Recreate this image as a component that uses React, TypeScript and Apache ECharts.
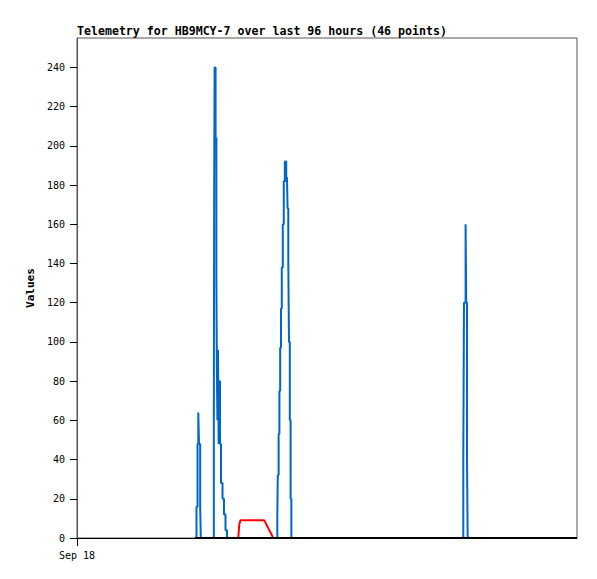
import React, { useEffect, useRef } from "react";
import * as echarts from "echarts";

// hours since Sep 18 00:00 (x) and values (y)
const blueHours = [
  22.94, 23.14, 23.29, 23.42, 23.65, 23.77, 23.87,
  26.27, 26.34, 26.42, 26.61, 26.76, 26.86, 26.96, 27.07, 27.19, 27.32, 27.46, 27.65, 27.94, 28.22, 28.51, 28.8, 28.99,
  38.46, 38.55, 38.71, 38.86, 39.01, 39.17, 39.32, 39.51, 39.7, 39.9, 40.17, 40.32, 40.43, 40.57, 40.7, 40.86, 41.01, 41.16, 41.32,
  74.17, 74.3, 74.61, 74.73, 74.88, 75.01, 75.07,
];
const blueValues = [
  0, 16, 48, 64, 48, 16, 0,
  0, 60, 180, 240, 204, 132, 84, 60, 96, 48, 80, 48, 28, 20, 12, 4, 0,
  0, 10, 32, 53, 75, 97, 117, 138, 160, 182, 192, 182, 184, 168, 140, 100, 60, 20, 0,
  0, 40, 120, 160, 120, 40, 0,
];
const redHours = [30.97, 31.07, 31.16, 31.39, 35.96, 37.69];
const redValues = [0, 4, 7, 9, 9, 0];
const blackHours = [22.66, 96];
const blackValues = [0, 0];

const yTicks = [0, 20, 40, 60, 80, 100, 120, 140, 160, 180, 200, 220, 240];
const xTickHours = [0];
const xTickLabels = ["Sep 18"];
const titleText = "Telemetry for HB9MCY-7 over last 96 hours (46 points)";
const yName = "Values";

const zip = (xs: number[], ys: number[]) => xs.map((x, i) => [x, ys[i]]);

export default function App() {
  const ref = useRef<HTMLDivElement>(null);
  useEffect(() => {
    if (!ref.current) return;
    const chart = echarts.init(ref.current, null, { renderer: "svg" });
    const mono = "DejaVu Sans Mono";
    chart.setOption({
      animation: false,
      backgroundColor: "#ffffff",
      title: {
        text: titleText,
        left: 77,
        top: 25,
        padding: 0,
        textStyle: { fontFamily: mono, fontSize: 11.6, fontWeight: "bold", color: "#000" },
      },
      grid: {
        left: 77,
        top: 38,
        width: 500,
        height: 500,
        show: true,
        borderColor: "#555",
        borderWidth: 1,
        backgroundColor: "transparent",
      },
      xAxis: {
        type: "value",
        min: 0,
        max: 96,
        splitLine: { show: false },
        axisLine: { show: true, onZero: false, lineStyle: { color: "#000", width: 1 } },
        axisTick: { show: true, length: 8, customValues: xTickHours, lineStyle: { color: "#000" } },
        axisLabel: {
          customValues: xTickHours,
          margin: 12,
          fontFamily: mono,
          fontSize: 10,
          color: "#000",
          formatter: (v: number) => {
            const i = xTickHours.indexOf(v);
            return i >= 0 ? xTickLabels[i] : "";
          },
        },
      },
      yAxis: {
        type: "value",
        min: 0,
        max: 255,
        name: yName,
        nameLocation: "middle",
        nameGap: 40,
        nameRotate: 90,
        nameTextStyle: { fontFamily: mono, fontSize: 11, fontWeight: "bold", color: "#000" },
        splitLine: { show: false },
        axisLine: { show: true, lineStyle: { color: "#555", width: 1 } },
        axisTick: { show: true, length: 7, customValues: yTicks, lineStyle: { color: "#000" } },
        axisLabel: {
          customValues: yTicks,
          margin: 12,
          fontFamily: mono,
          fontSize: 10,
          color: "#000",
        },
      },
      series: [
        {
          type: "line",
          data: zip(blueHours, blueValues),
          step: "start",
          showSymbol: false,
          lineStyle: { color: "#0066cc", width: 2 },
          itemStyle: { color: "#0066cc" },
        },
        {
          type: "line",
          data: zip(redHours, redValues),
          showSymbol: false,
          lineStyle: { color: "#ff0000", width: 2 },
          itemStyle: { color: "#ff0000" },
        },
        {
          type: "line",
          data: zip(blackHours, blackValues),
          showSymbol: false,
          lineStyle: { color: "#000000", width: 2 },
          itemStyle: { color: "#000000" },
        },
      ],
    });
    return () => chart.dispose();
  }, []);
  return (
    <div
      ref={ref}
      style={{ position: "fixed", left: 0, top: 0, width: 597, height: 579 }}
    />
  );
}
